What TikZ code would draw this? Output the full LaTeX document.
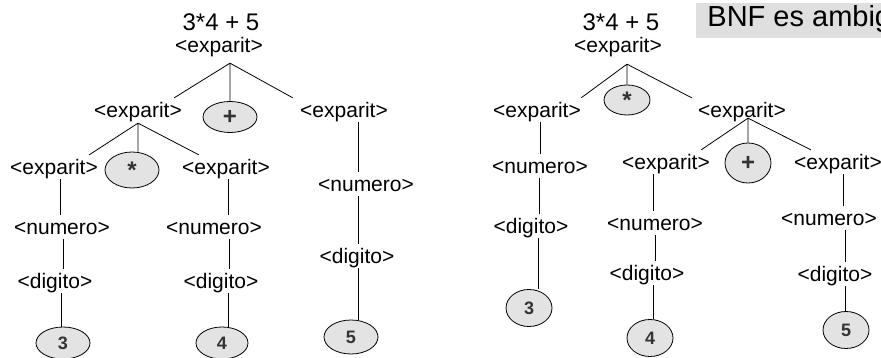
\documentclass[tikz,border=0pt]{standalone}
\usepackage{fontspec}
\setmainfont{Liberation Sans}
\usetikzlibrary{shapes.geometric}

\begin{document}
\begin{tikzpicture} [
		x=1pt, y=-1pt,
		line width=0.8pt,
		nt/.style={font=\fontsize{21}{24}\selectfont, inner sep=0pt, text height=19pt, text depth=0.5pt},
		expr/.style={font=\fontsize{24}{28}\selectfont, inner sep=0pt, anchor=base},
		tok/.style={ellipse, draw, fill=gray!22, inner sep=0pt, minimum width=54pt, minimum height=32pt,
			text=black!80, font=\fontsize{18}{20}\selectfont\bfseries},
		tokb/.style={tok, minimum width=46pt, minimum height=37pt},
		op/.style={font=\fontsize{24}{26}\selectfont\bfseries},
		lnk/.style={shorten <=4pt}
	]

\useasboundingbox (0,0) rectangle (881,358);
\clip (0,0) rectangle (881,358);

% left tree: (3*4) + 5
\node (t1) [expr] at (221,31) {3*4 + 5};
\node (r1) [nt] at (219,43) {<exparit>};
\node (a1) [nt] at (138,108) {<exparit>};
\node (p1) [tok, op, minimum height=31pt] at (230,117) {+};
\node (b1) [nt] at (344,108) {<exparit>};
\node (a2) [nt] at (54,165) {<exparit>};
\node (s1) [tok, op, minimum height=36pt] at (132,170) {*};
\node (b2) [nt] at (226,165) {<exparit>};
\node (n1) [nt] at (62,225) {<numero>};
\node (g1) [nt] at (55,279) {<digito>};
\node (d3) [tok] at (63,343) {3};
\node (n2) [nt] at (214,225) {<numero>};
\node (g2) [nt] at (221,279) {<digito>};
\node (d4) [tok, minimum width=52pt] at (222,343) {4};
\node (n3) [nt] at (366,182) {<numero>};
\node (g3) [nt] at (357,254) {<digito>};
\node (d5) [tok, minimum height=34pt] at (351,337) {5};

\path (r1.south -| p1.north) ++(0,10) coordinate (f1);
\draw (f1) -- ([xshift=-8pt]a1.north east)
	(f1) -- (p1.north)
	(f1) -- ([xshift=-7pt]b1.north west);
\path (a1.south) ++(0,5) coordinate (f2);
\draw (f2) -- ([xshift=-9pt]a2.north east)
	(f2) -- (f2 |- s1.north)
	(f2) -- ([xshift=17pt]b2.north west);

\draw [lnk] ([xshift=6pt]a2.south) -- ([xshift=-2pt]n1.north);
\draw [lnk] ([xshift=1pt]n1.south) -- ([xshift=8pt]g1.north);
\draw [lnk] ([xshift=6pt]g1.south) -- ([xshift=-2pt]d3.north);
\draw [lnk] ([xshift=2pt]b2.south) -- ([xshift=14pt]n2.north);
\draw [lnk] ([xshift=15pt]n2.south) -- ([xshift=8pt]g2.north);
\draw [lnk] ([xshift=7pt]g2.south) -- ([xshift=6pt]d4.north);
\draw [lnk] ([xshift=14pt]b1.south) -- ([xshift=-8pt]n3.north);
\draw [lnk] ([xshift=-8pt]n3.south) -- ([xshift=1pt]g3.north);
\draw [lnk] ([xshift=1pt]g3.south) -- ([xshift=7pt]d5.north);

% right tree: 3 * (4+5)
\node (t2) [expr] at (621,31) {3*4 + 5};
\node (r2) [nt] at (618,43) {<exparit>};
\node (a3) [nt] at (537,108) {<exparit>};
\node (s2) [tokb, op, minimum height=30pt] at (627,100) {*};
\node (b3) [nt] at (742,108) {<exparit>};
\node (n4) [nt] at (540,164) {<numero>};
\node (g4) [nt] at (531,224) {<digito>};
\node (d6) [tokb] at (529,308) {3};
\node (a4) [nt] at (666,160) {<exparit>};
\node (p2) [tokb, op, minimum height=40pt] at (748,163) {+};
\node (b4) [nt] at (838,160) {<exparit>};
\node (n5) [nt] at (655,221) {<numero>};
\node (g5) [nt] at (647,271) {<digito>};
\node (d7) [tokb] at (650,338) {4};
\node (n6) [nt] at (829,216) {<numero>};
\node (g6) [nt] at (835,272) {<digito>};
\node (d8) [tokb] at (846,330) {5};

\path (r2.south -| s2.north) ++(0,11) coordinate (f3);
\draw (f3) -- (a3.north east)
	(f3) -- (s2.north)
	(f3) -- ([xshift=-6pt]b3.north west);
\path (b3.south -| p2.north) coordinate (f4);
\draw (f4) -- ([xshift=-9pt]a4.north east)
	(f4) -- (p2.north)
	(f4) -- ([xshift=17pt]b4.north west);

\draw [lnk] ([xshift=3pt]a3.south) -- (n4.north);
\draw [lnk] ([xshift=-1pt]n4.south) -- ([xshift=8pt]g4.north);
\draw [lnk] ([xshift=7pt]g4.south) -- ([xshift=9pt]d6.north);
\draw [lnk] ([xshift=-13pt]a4.south) -- ([xshift=-2pt]n5.north);
\draw [lnk] (n5.south) -- ([xshift=8pt]g5.north);
\draw [lnk] ([xshift=6pt]g5.south) -- ([xshift=3pt]d7.north);
\draw [lnk] ([xshift=5pt]b4.south) -- ([xshift=14pt]n6.north);
\draw [lnk] ([xshift=16pt]n6.south) -- ([xshift=10pt]g6.north);
\draw [lnk] ([xshift=10pt]g6.south) -- ([xshift=-1pt]d8.north);

\node (bnf) [fill=gray!25, inner xsep=11pt, inner ysep=2pt, text height=22pt, text depth=9pt,
	anchor=base west, font=\fontsize{29}{33}\selectfont] at (696,27) {BNF es ambig};
\end{tikzpicture}
\end{document}
